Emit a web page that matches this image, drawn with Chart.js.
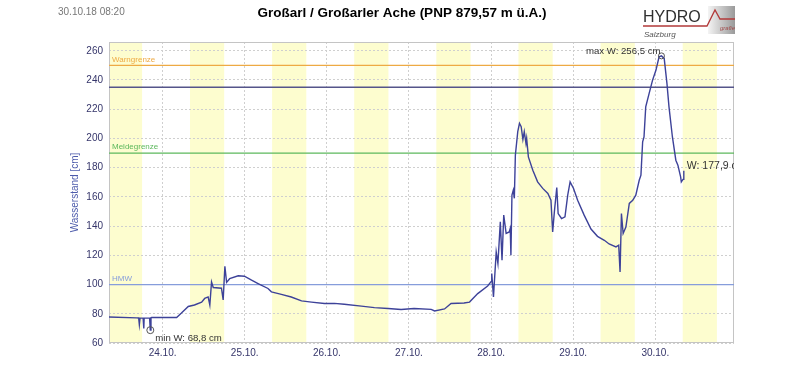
<!DOCTYPE html>
<html>
<head>
<meta charset="utf-8">
<style>
  html, body { margin: 0; padding: 0; background: #fff; }
</style>
</head>
<body>
<canvas id="chart" width="800" height="370"></canvas>
<script src="https://cdn.jsdelivr.net/npm/chart.js@4.4.1/dist/chart.umd.min.js"></script>
<script>
const FONT = "'Liberation Sans', Arial, sans-serif";

// time axis in hours since 24.10. 00:00
const xMin = -15.67; // 23.10. 08:20
const xMax = 167;
const dayTicks = [0, 24, 48, 72, 96, 120, 144];
const dayLabels = ['24.10.', '25.10.', '26.10.', '27.10.', '28.10.', '29.10.', '30.10.'];
const yTicks = [60, 80, 100, 120, 140, 160, 180, 200, 220, 240, 260];
// daylight bands (hours)
const bandStart = [-16, 8, 32, 56, 80, 104, 128, 152];
const bandEnd = [-6, 18, 42, 66, 90, 114, 138, 162];

// water level series (cm)
const waterTime = [
  -15.67, -7.6, -7.0, -6.8, -6.6, -5.7, -5.5, -5.4, -3.8, -3.6, -3.4, -3.2,
  4.1, 5.5, 7.5, 9.3, 11.4, 12.3, 13.3, 13.8, 14.3, 14.8, 17.2, 17.7, 18.2, 18.7,
  19.6, 22.1, 23.9, 26.0, 27.9, 30.8, 31.8, 34.7, 37.6, 40.6, 43.5, 47.3, 50.2,
  53.1, 58.1, 61.9, 65.9, 69.7, 73.5, 78.5, 79.5, 82.4, 84.3, 88.1, 89.7, 92.1,
  95.0, 96.0, 96.2, 96.7, 97.5, 98.0, 98.7, 99.2, 99.7, 100.4, 101.3, 101.6, 101.8,
  102.1, 102.5, 102.8, 103.1, 103.8, 104.3, 104.8, 105.3, 105.7, 106.2, 106.4, 106.9,
  108.2, 109.6, 111.1, 112.6, 113.5, 114.0, 114.5, 115.2, 115.6, 116.6, 117.6, 118.4,
  119.1, 120.1, 121.3, 123.2, 125.2, 127.1, 129.1, 130.5, 132.5, 133.3, 133.7, 134.1,
  134.6, 135.4, 136.4, 137.4, 138.3, 139.3, 139.8, 140.3, 140.7, 141.2, 142.2, 143.2,
  144.2, 145.1, 145.8, 146.6, 147.4, 148.0, 149.0, 150.0, 150.6, 151.4, 151.6, 152.1, 152.33
];
const waterLevel = [
  77.8, 77.2, 77.1, 72.5, 77.0, 77.0, 70.0, 77.0, 77.0, 68.8, 77.3, 77.5,
  77.5, 80.5, 85, 86, 88, 90.5, 91.5, 86, 101.8, 98, 97.5, 89.5, 112.5, 101.5,
  104, 106, 105.7, 103, 100.7, 97.3, 95, 93.3, 91.5, 88.8, 88, 87, 87.1,
  86.5, 85.2, 84.2, 83.6, 82.9, 83.6, 83, 81.9, 83.3, 87, 87.4, 88, 93.8,
  99, 102, 107.5, 91.5, 122.3, 114.4, 142.9, 116.6, 147.5, 135, 136, 138.4, 120,
  161.2, 164.6, 159, 188.6, 204.6, 210.3, 208, 199.3, 204.6, 196.6, 200, 187.4,
  178.3, 170.3, 165.8, 162.3, 157.7, 136, 149.7, 166.4, 148.6, 145.2, 146.3, 161.2,
  170.3, 165.8, 157.7, 147.5, 138, 133, 130.3, 127.8, 125.8, 126.9, 108.6, 148.6,
  135, 139.4, 155.5, 157.7, 161.2, 171.4, 174.9, 197.7, 201.1, 221.6, 230.8, 239.9,
  246.8, 255.9, 256.5, 254.8, 237.7, 221.6, 201, 185.1, 181.7, 173.7, 170.3, 172, 177.9
];

// threshold levels
const limitNames = ['Warngrenze', '', 'Meldegrenze', 'HMW'];
const limitValues = [250, 235, 190, 100];
const limitColors = ['#eeaa44', '#55558a', '#5cb85c', '#869ddb'];

const limitSets = limitValues.map((v, i) => ({
  label: limitNames[i],
  data: [{x: xMin, y: v}, {x: xMax, y: v}],
  borderColor: limitColors[i],
  borderWidth: i === 1 ? 1.6 : 1.2,
  pointRadius: 0,
  order: 2
}));

const fmt = (v) => v.toFixed(1).replace('.', ',');

const backdrop = {
  id: 'backdrop',
  beforeDraw(chart) {
    const {ctx, chartArea: a, scales: {x}} = chart;
    ctx.save();
    ctx.fillStyle = '#fff';
    ctx.fillRect(0, 0, chart.width, chart.height);
    ctx.fillStyle = '#fdfdcf';
    bandStart.forEach((s, i) => {
      const x0 = Math.max(a.left, x.getPixelForValue(s));
      const x1 = Math.min(a.right, x.getPixelForValue(bandEnd[i]));
      if (x1 > x0) ctx.fillRect(x0, a.top, x1 - x0, a.bottom - a.top);
    });
    ctx.restore();
  },
  beforeDatasetsDraw(chart) {
    const {ctx, chartArea: a, scales: {y}} = chart;
    ctx.save();
    ctx.strokeStyle = '#c4c4c4';
    ctx.lineWidth = 1;
    ctx.strokeRect(a.left + 0.5, a.top + 0.5, a.right - a.left - 1, a.bottom - a.top - 1);
    // limit labels
    ctx.font = '8px ' + FONT;
    ctx.textBaseline = 'bottom';
    limitNames.forEach((n, i) => {
      if (!n) return;
      ctx.fillStyle = limitColors[i];
      ctx.fillText(n, a.left + 3, y.getPixelForValue(limitValues[i]) - 2);
    });
    ctx.restore();
  },
  afterDatasetsDraw(chart) {
    const {ctx, chartArea: a, scales: {x, y}} = chart;
    const lo = Math.min(...waterLevel), hi = Math.max(...waterLevel);
    const iLo = waterLevel.indexOf(lo), iHi = waterLevel.indexOf(hi);
    const last = waterLevel.length - 1;
    ctx.save();
    ctx.beginPath();
    ctx.rect(a.left, a.top, a.right - a.left, a.bottom - a.top);
    ctx.clip();
    ctx.strokeStyle = '#555';
    ctx.lineWidth = 1;
    [[iLo, 3.5], [iHi, 3]].forEach(([i, r]) => {
      ctx.beginPath();
      ctx.arc(x.getPixelForValue(waterTime[i]), y.getPixelForValue(waterLevel[i]), r, 0, Math.PI * 2);
      ctx.stroke();
    });
    ctx.fillStyle = '#333';
    ctx.font = '9.6px ' + FONT;
    ctx.textBaseline = 'alphabetic';
    ctx.textAlign = 'left';
    ctx.fillText('min W: ' + fmt(lo) + ' cm', x.getPixelForValue(waterTime[iLo]) + 5, y.getPixelForValue(lo) + 11);
    ctx.textAlign = 'right';
    ctx.fillText('max W: ' + fmt(hi) + ' cm', x.getPixelForValue(waterTime[iHi]) - 1, y.getPixelForValue(hi) - 2);
    ctx.textAlign = 'left';
    ctx.textBaseline = 'middle';
    ctx.font = '10.5px ' + FONT;
    ctx.fillText('W: ' + fmt(waterLevel[last]) + ' cm', x.getPixelForValue(waterTime[last]) + 3, y.getPixelForValue(waterLevel[last]) - 5);
    ctx.restore();
  },
  afterDraw(chart) {
    const {ctx} = chart;
    ctx.save();
    ctx.fillStyle = '#000';
    ctx.font = 'bold 13.5px ' + FONT;
    ctx.textAlign = 'center';
    ctx.textBaseline = 'middle';
    ctx.fillText('Großarl / Großarler Ache (PNP 879,57 m ü.A.)', 402, 13);
    ctx.textAlign = 'left';
    ctx.fillStyle = '#777';
    ctx.font = '10px ' + FONT;
    ctx.fillText('30.10.18 08:20', 58, 12);
    // logo
    const g = ctx.createLinearGradient(708, 0, 735, 0);
    g.addColorStop(0, '#f4f4f4');
    g.addColorStop(1, '#9a9a9a');
    ctx.fillStyle = g;
    ctx.fillRect(708, 6, 27, 28);
    ctx.fillStyle = '#2f2f2f';
    ctx.font = '16px ' + FONT;
    ctx.textBaseline = 'alphabetic';
    ctx.fillText('HYDRO', 643, 22);
    ctx.strokeStyle = '#b23a3a';
    ctx.lineWidth = 1.3;
    ctx.beginPath();
    ctx.moveTo(643, 26);
    ctx.lineTo(707, 26);
    ctx.lineTo(715, 10);
    ctx.lineTo(720, 19);
    ctx.lineTo(735, 19);
    ctx.stroke();
    ctx.fillStyle = '#a04a4a';
    ctx.font = 'italic 6px ' + FONT;
    ctx.fillText('grafie', 720, 30);
    ctx.fillStyle = '#555';
    ctx.font = 'italic 8px ' + FONT;
    ctx.fillText('Salzburg', 644, 37);
    ctx.restore();
  }
};

new Chart(document.getElementById('chart'), {
  type: 'line',
  data: {
    datasets: [{
      label: 'Wasserstand',
      data: waterTime.map((t, i) => ({x: t, y: waterLevel[i]})),
      borderColor: '#3d4299',
      borderWidth: 1.4,
      pointRadius: 0,
      tension: 0,
      order: 1
    }, ...limitSets]
  },
  options: {
    responsive: false,
    animation: false,
    events: [],
    layout: { padding: { left: 0, right: 66, top: 42, bottom: 0 } },
    scales: {
      x: {
        type: 'linear',
        min: xMin,
        max: xMax,
        afterBuildTicks: (s) => { s.ticks = dayTicks.map(v => ({value: v})); },
        afterFit: (s) => { s.height = 27; },
        ticks: {
          padding: 4,
          color: '#35356a',
          font: { family: FONT, size: 10 },
          maxRotation: 0,
          callback: (v) => dayLabels[dayTicks.indexOf(v)]
        },
        grid: { color: '#cfcfcf', drawTicks: false },
        border: { display: false, dash: [2, 2] }
      },
      y: {
        min: 60,
        max: 266,
        afterBuildTicks: (s) => { s.ticks = yTicks.map(v => ({value: v})); },
        afterFit: (s) => { s.width = 109; },
        ticks: {
          padding: 6,
          color: '#35356a',
          font: { family: FONT, size: 10 }
        },
        grid: { color: '#cfcfcf', drawTicks: false },
        border: { display: false, dash: [2, 2] },
        title: {
          display: true,
          text: 'Wasserstand [cm]',
          color: '#4d5bab',
          font: { family: FONT, size: 10 },
          padding: { top: 69, bottom: 0 }
        }
      }
    },
    plugins: {
      legend: { display: false },
      tooltip: { enabled: false },
      title: { display: false }
    }
  },
  plugins: [backdrop]
});
</script>
</body>
</html>
